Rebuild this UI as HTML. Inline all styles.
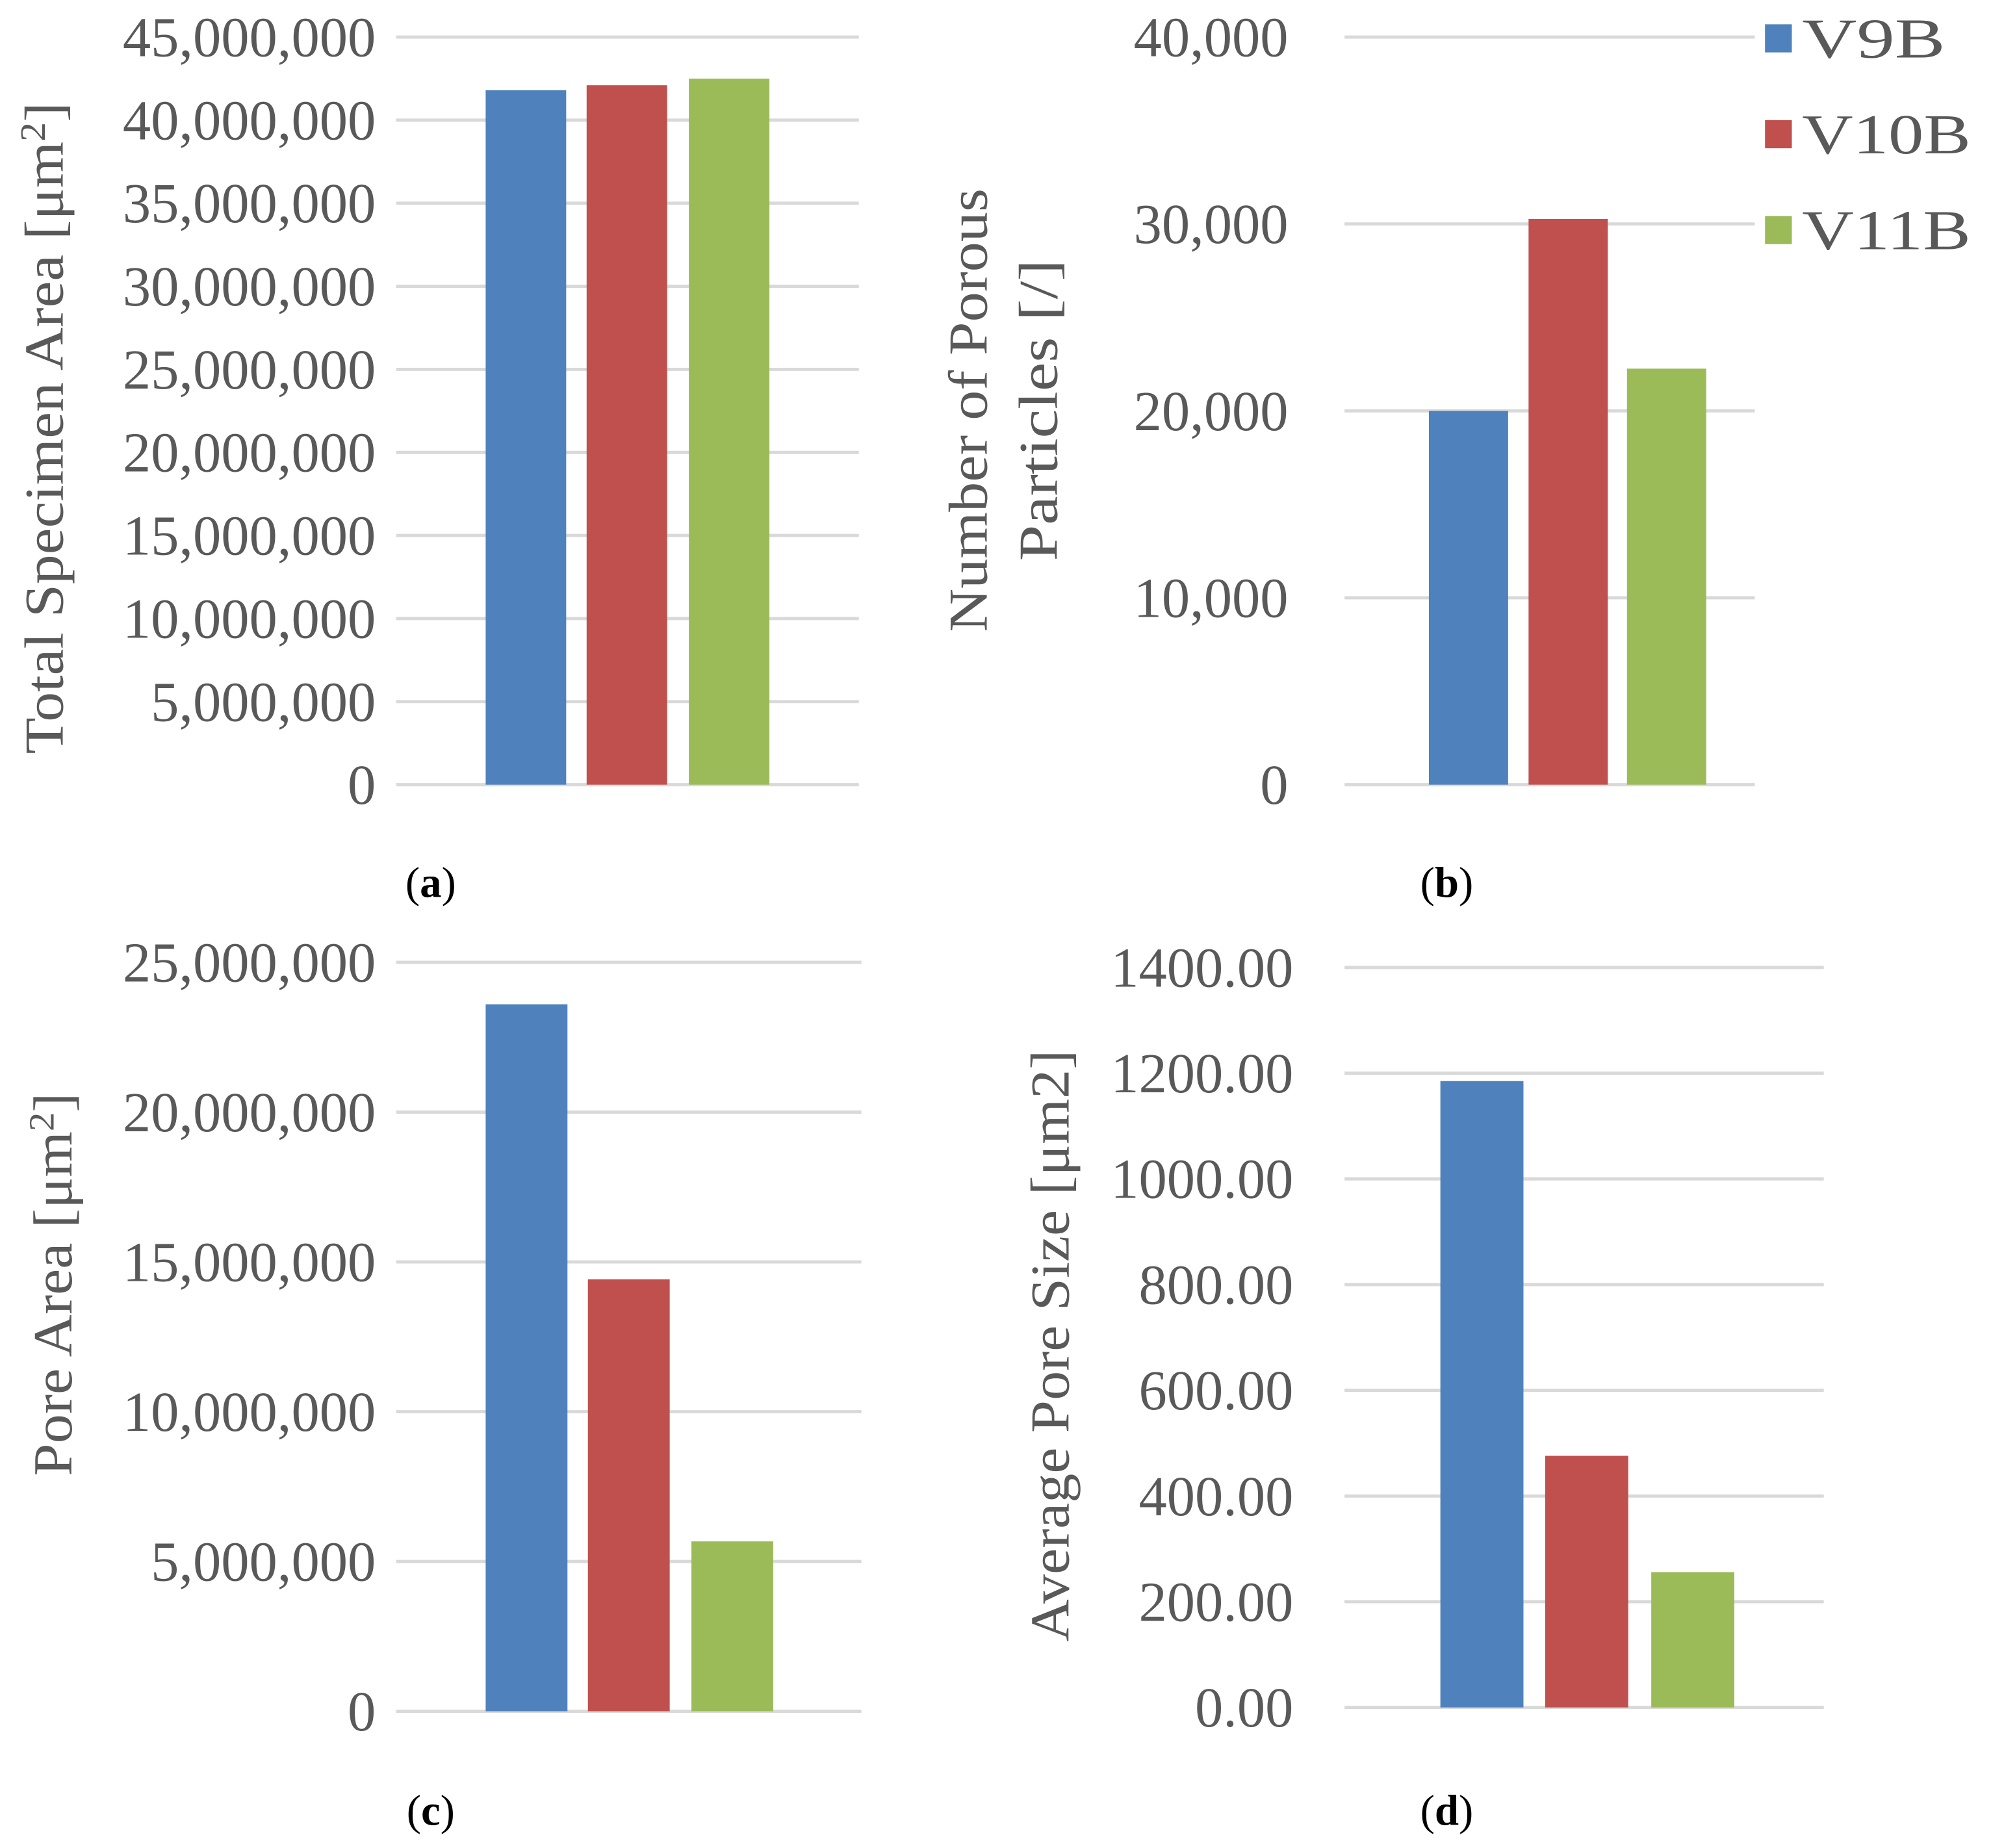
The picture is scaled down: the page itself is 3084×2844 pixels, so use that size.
<!DOCTYPE html>
<html><head><meta charset="utf-8"><style>
html,body{margin:0;padding:0;background:#fff;}
svg{display:block;}
text{font-family:"Liberation Serif",serif;}
</style></head>
<body>
<svg id="fig" width="3084" height="2844" viewBox="0 0 1568 1446" preserveAspectRatio="none" xmlns="http://www.w3.org/2000/svg"></svg>
<script>
const series = ["V9B","V10B","V11B"];
const colors = ["#4F81BD","#C0504D","#9BBB59"];
const valsA = [41800000, 42100000, 42500000];
const valsB = [20000, 30270, 22260];
const valsC = [23600000, 14420000, 5670000];
const valsD = [1185, 476, 256];
const ticksA = ["0","5,000,000","10,000,000","15,000,000","20,000,000","25,000,000","30,000,000","35,000,000","40,000,000","45,000,000"];
const ticksB = ["0","10,000","20,000","30,000","40,000"];
const ticksC = ["0","5,000,000","10,000,000","15,000,000","20,000,000","25,000,000"];
const ticksD = ["0.00","200.00","400.00","600.00","800.00","1000.00","1200.00","1400.00"];
const maxA = 45000000, maxB = 40000, maxC = 25000000, maxD = 1400;

const NS = "http://www.w3.org/2000/svg";
const svg = document.getElementById("fig");
function mk(tag, attrs, parent){
  const e = document.createElementNS(NS, tag);
  for (const k in attrs) e.setAttribute(k, attrs[k]);
  (parent||svg).appendChild(e);
  return e;
}
function chart(id, cfg){
  const g = mk("g", {});
  
  
  const y = v => cfg.y0 - (v / cfg.max) * (cfg.y0 - cfg.yTop);
  const step = cfg.max / (cfg.ticks.length - 1);
  cfg.ticks.forEach((t, i) => {
    const yy = y(i * step);
    const l = mk("line", {x1: cfg.gx0, x2: cfg.gx1, y1: yy, y2: yy, stroke: "#D9D9D9", "stroke-width": 2.5}, g);
    
    
    const tx = mk("text", {x: cfg.labX, y: yy + 15, "text-anchor": "end", "font-size": 44, fill: "#595959"}, g);
    tx.textContent = t;
    
    
  });
  cfg.vals.forEach((v, i) => {
    const r = mk("rect", {x: cfg.bx[i], y: y(v), width: cfg.bw, height: cfg.y0 - y(v), fill: colors[i]}, g);
    
    
  });
  cfg.title.forEach((line, i) => {
    const tt = mk("text", {x: 0, y: 0, "text-anchor": "middle", "font-size": 43, fill: "#595959",
      textLength: cfg.titleLen[i], lengthAdjust: "spacingAndGlyphs",
      transform: `translate(${cfg.titleX + i*55},${cfg.titleY}) rotate(-90)`}, g);
    tt.innerHTML = line;
    
    
  });
  const cap = mk("text", {x: cfg.capX, y: cfg.capY, "text-anchor": "middle", "font-size": 34, fill: "#000"}, g);
  cap.innerHTML = '(<tspan font-weight="bold">' + id + '</tspan>)';
  
  
}
chart("a", {vals: valsA, ticks: ticksA, max: maxA, y0: 614, yTop: 29, gx0: 310, gx1: 672, labX: 294,
  bx: [380, 459, 539], bw: 63, title: ['Total Specimen Area [μm<tspan dy="-14" font-size="28">2</tspan><tspan dy="14">]</tspan>'], titleLen: [510],
  titleX: 49, titleY: 335, capX: 337, capY: 702});
chart("b", {vals: valsB, ticks: ticksB, max: maxB, y0: 614, yTop: 29, gx0: 1052, gx1: 1373, labX: 1008,
  bx: [1118, 1196, 1273], bw: 62, title: ['Number of Porous', 'Particles [/]'], titleLen: [347, 236],
  titleX: 772, titleY: 321, capX: 1132, capY: 702});
chart("c", {vals: valsC, ticks: ticksC, max: maxC, y0: 1339, yTop: 753, gx0: 310, gx1: 674, labX: 294,
  bx: [380, 460, 541], bw: 64, title: ['Pore Area [μm<tspan dy="-14" font-size="28">2</tspan><tspan dy="14">]</tspan>'], titleLen: [300],
  titleX: 56, titleY: 1005, capX: 337, capY: 1428});
chart("d", {vals: valsD, ticks: ticksD, max: maxD, y0: 1336, yTop: 757, gx0: 1052, gx1: 1427, labX: 1012,
  bx: [1127, 1209, 1292], bw: 65, title: ['Average Pore Size [μm2]'], titleLen: [463],
  titleX: 836, titleY: 1053, capX: 1132, capY: 1428});

const lg = mk("g", {});


const legY = [30, 105, 180];
const legLen = [112, 132, 132];
series.forEach((s, i) => {
  const r = mk("rect", {x: 1381, y: legY[i] - 11, width: 21, height: 22, fill: colors[i]}, lg);
  
  
  const t = mk("text", {x: 1410, y: legY[i] + 15, "font-size": 44, fill: "#595959", textLength: legLen[i], lengthAdjust: "spacingAndGlyphs"}, lg);
  t.textContent = s;
  
  
});
</script>
</body></html>
